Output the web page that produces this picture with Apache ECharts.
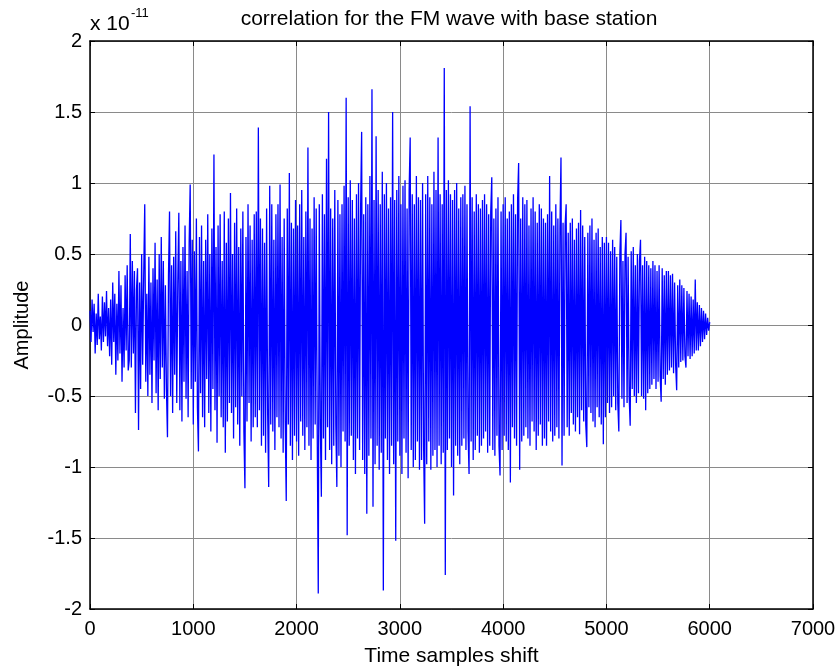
<!DOCTYPE html>
<html><head><meta charset="utf-8">
<script src="https://cdn.jsdelivr.net/npm/echarts@6/dist/echarts.min.js"></script>
<style>html,body{margin:0;padding:0;background:#fff}#c{width:840px;height:672px}</style>
</head><body><div id="c"></div>
<script>
// Sample spacing (time samples between stored points)
const sampleStep = 10;
// Amplitude values (units of 1e-11)
const amplitude = [
 0.10,-0.12,0.18,-0.05,0.15,-0.20,0.08,-0.14,0.22,-0.10,0.06,-0.18,0.20,-0.12,0.16,-0.08,0.24,-0.15,0.12,-0.22,
 0.18,-0.28,0.30,-0.12,0.22,-0.35,0.15,-0.25,0.38,-0.20,0.28,-0.40,0.12,-0.30,0.35,-0.18,0.42,-0.32,-0.25,0.64,
 -0.30,0.45,-0.20,0.38,-0.62,0.25,0.40,-0.74,0.30,-0.45,0.50,-0.28,0.35,0.85,-0.40,0.22,-0.50,0.48,-0.35,0.30,
 -0.55,0.40,-0.25,0.58,-0.48,0.32,-0.60,0.50,-0.38,0.62,-0.30,0.45,-0.52,0.28,-0.45,-0.79,0.35,0.80,-0.50,0.42,
 -0.62,0.48,-0.35,0.66,-0.55,0.30,0.79,-0.60,0.45,-0.68,0.55,-0.40,0.70,-0.52,0.38,-0.65,0.58,0.99,-0.45,0.60,
 -0.70,0.52,-0.40,0.75,-0.58,-0.89,0.62,-0.48,0.70,-0.65,0.45,-0.72,0.60,-0.38,0.78,-0.62,0.50,-0.75,0.68,-0.45,
 1.20,-0.60,0.55,-0.83,0.70,-0.50,0.78,-0.65,0.45,-0.72,0.80,-0.90,0.58,-0.68,0.75,-0.55,0.93,-0.62,0.50,-0.80,
 0.72,-0.58,0.82,-0.70,0.55,-0.85,0.68,-0.50,0.80,-0.75,-1.15,0.62,-0.68,0.85,-0.55,0.70,-0.82,0.60,-0.72,0.78,
 -0.65,0.80,-0.72,1.39,-0.60,0.75,-0.85,0.68,-0.78,0.58,-0.90,0.82,-0.62,-1.14,0.98,-0.70,0.85,-0.75,0.60,-0.88,
 0.78,-0.65,0.85,-0.72,0.99,-0.80,0.62,-0.90,0.75,-0.68,-1.24,0.82,-0.70,1.07,-0.85,0.72,-0.95,0.68,-0.78,0.88,
 -0.82,0.70,-0.92,0.85,-0.68,0.95,-0.78,0.62,-0.88,0.80,-0.72,1.25,-0.85,0.75,-0.95,0.68,-0.80,0.90,-0.70,0.82,
 -0.75,-1.89,0.85,-0.70,-1.21,0.92,-0.80,0.78,-0.95,1.17,-0.72,1.50,-0.88,0.82,-0.98,0.75,-0.85,0.95,-0.70,-1.14,
 0.88,-0.92,0.78,-1.00,0.85,-0.75,0.98,-0.82,1.60,-1.48,0.90,-0.85,1.02,-0.78,0.88,-0.95,0.75,-1.05,0.92,-0.80,
 1.00,-0.88,0.82,1.36,-0.95,0.78,-1.05,0.90,-1.33,0.85,-0.92,1.05,-0.80,1.66,-1.28,0.88,-0.98,1.33,-0.85,0.95,
 -1.02,0.85,-0.90,1.08,-1.87,0.92,-0.80,1.00,-0.95,0.82,-1.05,0.90,-0.85,1.50,-0.98,0.88,-1.52,0.95,-0.82,1.05,
 -0.92,0.85,-1.05,0.98,-0.80,1.02,-0.90,0.82,-1.08,0.95,1.32,-0.88,0.92,-1.00,0.85,-0.95,1.05,-0.82,0.90,-1.02,
 0.88,-0.95,1.00,-0.85,-1.40,0.92,-0.98,1.05,-0.82,0.90,-1.02,0.85,-0.92,1.08,-0.88,0.95,-1.00,1.32,-0.85,0.92,
 -0.98,0.85,-0.90,1.81,-1.76,0.95,-0.88,1.02,-0.80,0.92,-1.00,0.88,-1.20,0.95,-0.85,1.00,-0.92,0.82,-0.98,0.90,
 -0.85,0.92,-0.80,0.98,-0.88,0.85,-0.75,-1.05,1.54,-0.82,0.90,-0.95,0.80,-0.88,0.92,-0.78,0.85,-0.90,0.82,-0.85,
 0.88,-0.80,0.92,-0.75,0.85,-0.90,0.78,-0.85,0.80,1.04,-0.88,0.75,-0.92,0.82,-0.78,0.90,-0.85,-1.06,0.80,-0.88,
 0.85,-0.78,0.90,-0.82,0.75,-0.88,0.80,-1.11,0.85,-0.72,0.92,-0.80,0.78,-0.85,0.88,1.14,-1.02,0.75,-0.82,0.90,
 -0.78,0.85,-0.72,0.88,-0.80,0.70,-0.85,0.82,-0.68,0.90,-0.75,0.80,-0.88,0.72,-0.78,0.85,-0.70,0.82,-0.85,0.75,
 -0.80,0.72,-0.85,0.78,-0.68,1.05,-0.75,0.80,-0.82,0.70,-0.78,0.85,-0.72,0.75,-0.80,0.68,1.18,-0.99,0.72,-0.78,
 0.70,0.85,-0.72,0.65,-0.78,0.72,-0.62,0.75,-0.70,0.60,-0.75,0.68,-0.65,0.72,-0.77,0.81,-0.60,0.70,-0.68,0.62,
 -0.70,-0.86,0.65,-0.58,0.70,-0.62,0.75,-0.68,0.60,-0.72,0.65,-0.58,0.68,-0.65,0.55,-0.70,0.62,-0.84,0.58,-0.65,
 0.62,-0.55,0.58,-0.62,0.52,-0.58,0.60,-0.50,0.55,-0.60,0.48,-0.55,-0.75,0.50,0.74,-0.52,0.45,-0.58,0.50,0.65,
 -0.55,0.48,-0.50,-0.71,0.52,-0.45,0.55,-0.50,0.42,-0.55,0.50,-0.48,0.45,0.60,-0.50,0.42,-0.52,0.48,-0.60,0.45,
 -0.48,0.42,-0.45,0.40,-0.42,0.45,-0.38,0.42,-0.45,0.38,-0.40,0.42,-0.36,-0.54,0.40,-0.38,0.35,-0.42,0.38,-0.35,
 0.38,-0.32,0.35,-0.30,0.36,-0.34,0.30,-0.28,-0.46,0.28,-0.30,0.32,-0.26,0.28,-0.25,0.26,-0.22,-0.30,0.24,-0.22,
 0.22,-0.24,0.20,-0.22,0.18,-0.20,0.32,-0.18,0.16,-0.18,0.14,-0.15,0.12,-0.12,0.10,-0.10,0.08,-0.07,0.05,-0.04,0.02
];
const xTicks = [0,1000,2000,3000,4000,5000,6000,7000];
const yTicks = [-2,-1.5,-1,-0.5,0,0.5,1,1.5,2];

const seriesData = amplitude.map((v,i)=>[i*sampleStep, v]);
const font = 'Liberation Sans, Arial, sans-serif';
const chart = echarts.init(document.getElementById('c'), null, {renderer:'canvas'});
const gridLine = {show:true, lineStyle:{color:'#8a8a8a', width:1}};
const axisCommon = {
  axisLine:{show:true, onZero:false, lineStyle:{color:'#000', width:1.5}},
  axisTick:{show:true, inside:true, length:5, lineStyle:{color:'#000'}},
};
chart.setOption({
  animation:false,
  backgroundColor:'#fff',
  grid:{left:90, right:27, top:41, bottom:61, containLabel:false},
  xAxis:[
    Object.assign({type:'value', min:xTicks[0], max:xTicks[xTicks.length-1], interval:1000, position:'bottom',
      name:'Time samples shift', nameLocation:'middle', nameGap:37,
      nameTextStyle:{fontFamily:font, fontSize:21, color:'#000'},
      axisLabel:{fontFamily:font, fontSize:20, color:'#000', margin:10, formatter:v=>String(v)},
      splitLine:gridLine}, axisCommon),
    Object.assign({type:'value', min:0, max:7000, interval:1000, position:'top',
      axisLabel:{show:false}, splitLine:{show:false}}, axisCommon)
  ],
  yAxis:[
    Object.assign({type:'value', min:-2, max:2, interval:0.5, position:'left',
      name:'Amplitude', nameLocation:'middle', nameGap:58,
      nameTextStyle:{fontFamily:font, fontSize:20, color:'#000'},
      axisLabel:{fontFamily:font, fontSize:20, color:'#000', margin:8,
        formatter:v=>String(Math.round(v*10)/10)},
      splitLine:gridLine}, axisCommon),
    Object.assign({type:'value', min:-2, max:2, interval:0.5, position:'right',
      axisLabel:{show:false}, splitLine:{show:false}}, axisCommon)
  ],
  graphic:[
    {type:'text', style:{x:449, y:19, text:'correlation for the FM wave with base station',
      font:'21px '+font, fill:'#000', textAlign:'center', textVerticalAlign:'middle'}},
    {type:'text', style:{x:90, y:24, text:'x 10', font:'21px '+font, fill:'#000', textAlign:'left', textVerticalAlign:'middle'}},
    {type:'text', style:{x:131, y:13, text:'-11', font:'13px '+font, fill:'#000', textAlign:'left', textVerticalAlign:'middle'}}
  ],
  series:[{type:'line', data:seriesData, showSymbol:false, symbol:'none', sampling:null,
    lineStyle:{color:'#0000ff', width:1.3}, xAxisIndex:0, yAxisIndex:0, z:3}]
});
</script></body></html>
